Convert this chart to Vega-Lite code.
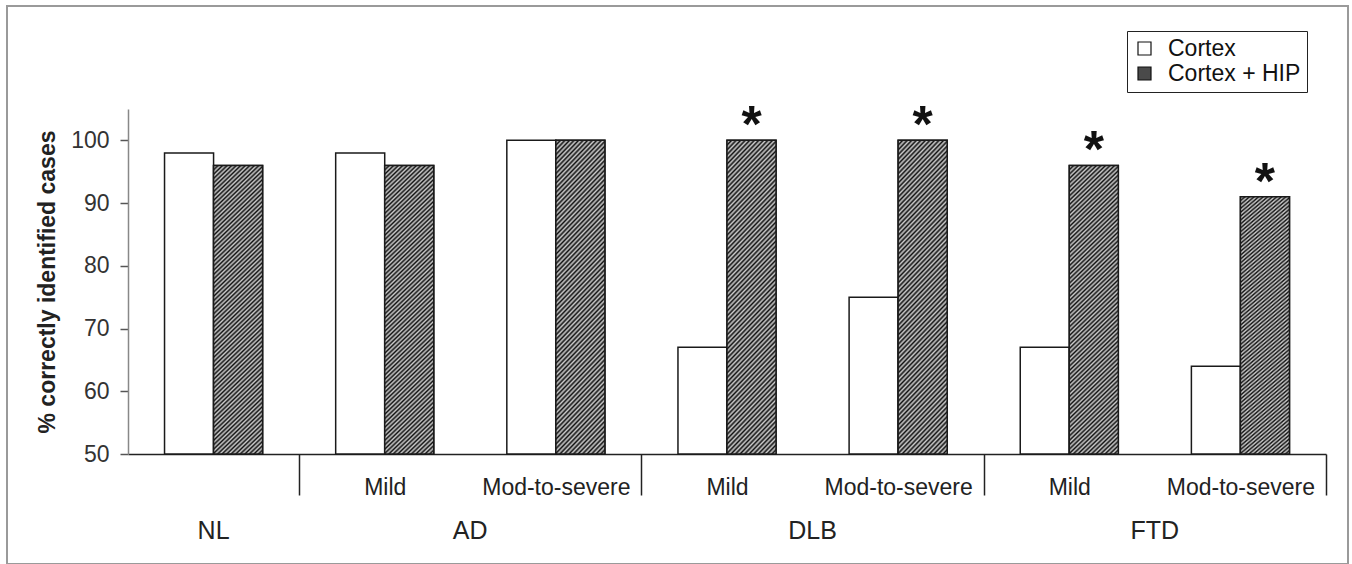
{
"$schema": "https://vega.github.io/schema/vega-lite/v6.json",
"width": 1341, "height": 558,
"autosize": {"type": "none"},
"padding": {"left": 7, "top": 6, "right": 4, "bottom": 0},
"background": "white",
"config": {"font": "Liberation Sans", "view": {"stroke": "#9a9a9a", "strokeWidth": 2}},
"data": {"values": [
{"cat":"NL","series":"Cortex","value":98,"sig":""},
{"cat":"NL","series":"Cortex + HIP","value":96,"sig":""},
{"cat":"AD/Mild","series":"Cortex","value":98,"sig":""},
{"cat":"AD/Mild","series":"Cortex + HIP","value":96,"sig":""},
{"cat":"AD/Mod-to-severe","series":"Cortex","value":100,"sig":""},
{"cat":"AD/Mod-to-severe","series":"Cortex + HIP","value":100,"sig":""},
{"cat":"DLB/Mild","series":"Cortex","value":67,"sig":""},
{"cat":"DLB/Mild","series":"Cortex + HIP","value":100,"sig":"*"},
{"cat":"DLB/Mod-to-severe","series":"Cortex","value":75,"sig":""},
{"cat":"DLB/Mod-to-severe","series":"Cortex + HIP","value":100,"sig":"*"},
{"cat":"FTD/Mild","series":"Cortex","value":67,"sig":""},
{"cat":"FTD/Mild","series":"Cortex + HIP","value":96,"sig":"*"},
{"cat":"FTD/Mod-to-severe","series":"Cortex","value":64,"sig":""},
{"cat":"FTD/Mod-to-severe","series":"Cortex + HIP","value":91,"sig":"*"}
]},
"encoding": {
"y": {"field": "value", "type": "quantitative",
 "scale": {"domain": [50, 105], "range": [448, 103], "nice": false, "zero": false},
 "axis": {"orient": "left", "offset": -121, "values": [50,60,70,80,90,100], "title": "% correctly identified cases",
  "titleFontSize": 23, "titleFontWeight": "bold", "titleColor": "#222", "titlePadding": 11,
  "labelFontSize": 23, "labelColor": "#333", "labelPadding": 11, "tickSize": 8, "tickColor": "#555", "tickWidth": 1.5,
  "domainColor": "#888", "domainWidth": 1.5, "grid": false}}
},
"layer": [
{
"mark": {"type": "bar", "stroke": "#1a1a1a", "strokeWidth": 1.5},
"encoding": {
"x": {"field": "cat", "type": "nominal",
 "scale": {"domain": ["NL","AD/Mild","AD/Mod-to-severe","DLB/Mild","DLB/Mod-to-severe","FTD/Mild","FTD/Mod-to-severe"], "range": [121, 1319], "paddingInner": 0, "paddingOuter": 0},
 "axis": {"orient": "bottom", "offset": -110, "title": null, "labelAngle": 0,
  "labelExpr": "isString(datum.value) && indexof(datum.value,'/') > 0 ? split(datum.value,'/')[1] : ''",
  "labelFontSize": 23, "labelColor": "#222", "labelPadding": -19, "labelOverlap": false,
  "domainColor": "#222", "domainWidth": 1.5, "tickBand": "extent", "tickSize": 41, "tickColor": "#222", "tickWidth": 1.5,
  "tickOpacity": {"condition": {"test": "!datum.extra && (datum.value === 'NL' || datum.value === 'AD/Mod-to-severe' || datum.value === 'DLB/Mod-to-severe' || datum.value === 'FTD/Mod-to-severe')", "value": 1}, "value": 0},
  "grid": false}},
"xOffset": {"field": "series", "type": "nominal", "scale": {"paddingInner": 0, "paddingOuter": 0.745}},
"y2": {"datum": 50},
"color": {"field": "series", "type": "nominal",
 "scale": {"domain": ["Cortex", "Cortex + HIP"], "range": ["#ffffff", "#4a4a4a"]},
 "legend": {"orient": "none", "legendX": 1120, "legendY": 25, "title": null, "symbolType": "square", "symbolSize": 169,
  "symbolStrokeColor": "#111", "symbolStrokeWidth": 1.2, "symbolOpacity": 1, "labelFontSize": 23, "labelColor": "#111", "labelOffset": 12,
  "padding": 6, "rowPadding": 1, "strokeColor": "#222"}}
}
},
{
"transform": [{"filter": "datum.series === 'Cortex + HIP'"}],
"mark": {"type": "bar", "stroke": "#1a1a1a", "strokeWidth": 1.5, "fill": {"gradient": "linear", "x1": 0, "y1": 0, "x2": 0.1925, "y2": 1.1786, "stops": [
{"offset":0,"color":"#111"},{"offset":0.00625,"color":"#ccc"},{"offset":0.0125,"color":"#111"},{"offset":0.01875,"color":"#ccc"},{"offset":0.025,"color":"#111"},{"offset":0.03125,"color":"#ccc"},{"offset":0.0375,"color":"#111"},{"offset":0.04375,"color":"#ccc"},{"offset":0.05,"color":"#111"},{"offset":0.05625,"color":"#ccc"},{"offset":0.0625,"color":"#111"},{"offset":0.06875,"color":"#ccc"},{"offset":0.075,"color":"#111"},{"offset":0.08125,"color":"#ccc"},{"offset":0.0875,"color":"#111"},{"offset":0.09375,"color":"#ccc"},
{"offset":0.1,"color":"#111"},{"offset":0.10625,"color":"#ccc"},{"offset":0.1125,"color":"#111"},{"offset":0.11875,"color":"#ccc"},{"offset":0.125,"color":"#111"},{"offset":0.13125,"color":"#ccc"},{"offset":0.1375,"color":"#111"},{"offset":0.14375,"color":"#ccc"},{"offset":0.15,"color":"#111"},{"offset":0.15625,"color":"#ccc"},{"offset":0.1625,"color":"#111"},{"offset":0.16875,"color":"#ccc"},{"offset":0.175,"color":"#111"},{"offset":0.18125,"color":"#ccc"},{"offset":0.1875,"color":"#111"},{"offset":0.19375,"color":"#ccc"},
{"offset":0.2,"color":"#111"},{"offset":0.20625,"color":"#ccc"},{"offset":0.2125,"color":"#111"},{"offset":0.21875,"color":"#ccc"},{"offset":0.225,"color":"#111"},{"offset":0.23125,"color":"#ccc"},{"offset":0.2375,"color":"#111"},{"offset":0.24375,"color":"#ccc"},{"offset":0.25,"color":"#111"},{"offset":0.25625,"color":"#ccc"},{"offset":0.2625,"color":"#111"},{"offset":0.26875,"color":"#ccc"},{"offset":0.275,"color":"#111"},{"offset":0.28125,"color":"#ccc"},{"offset":0.2875,"color":"#111"},{"offset":0.29375,"color":"#ccc"},
{"offset":0.3,"color":"#111"},{"offset":0.30625,"color":"#ccc"},{"offset":0.3125,"color":"#111"},{"offset":0.31875,"color":"#ccc"},{"offset":0.325,"color":"#111"},{"offset":0.33125,"color":"#ccc"},{"offset":0.3375,"color":"#111"},{"offset":0.34375,"color":"#ccc"},{"offset":0.35,"color":"#111"},{"offset":0.35625,"color":"#ccc"},{"offset":0.3625,"color":"#111"},{"offset":0.36875,"color":"#ccc"},{"offset":0.375,"color":"#111"},{"offset":0.38125,"color":"#ccc"},{"offset":0.3875,"color":"#111"},{"offset":0.39375,"color":"#ccc"},
{"offset":0.4,"color":"#111"},{"offset":0.40625,"color":"#ccc"},{"offset":0.4125,"color":"#111"},{"offset":0.41875,"color":"#ccc"},{"offset":0.425,"color":"#111"},{"offset":0.43125,"color":"#ccc"},{"offset":0.4375,"color":"#111"},{"offset":0.44375,"color":"#ccc"},{"offset":0.45,"color":"#111"},{"offset":0.45625,"color":"#ccc"},{"offset":0.4625,"color":"#111"},{"offset":0.46875,"color":"#ccc"},{"offset":0.475,"color":"#111"},{"offset":0.48125,"color":"#ccc"},{"offset":0.4875,"color":"#111"},{"offset":0.49375,"color":"#ccc"},
{"offset":0.5,"color":"#111"},{"offset":0.50625,"color":"#ccc"},{"offset":0.5125,"color":"#111"},{"offset":0.51875,"color":"#ccc"},{"offset":0.525,"color":"#111"},{"offset":0.53125,"color":"#ccc"},{"offset":0.5375,"color":"#111"},{"offset":0.54375,"color":"#ccc"},{"offset":0.55,"color":"#111"},{"offset":0.55625,"color":"#ccc"},{"offset":0.5625,"color":"#111"},{"offset":0.56875,"color":"#ccc"},{"offset":0.575,"color":"#111"},{"offset":0.58125,"color":"#ccc"},{"offset":0.5875,"color":"#111"},{"offset":0.59375,"color":"#ccc"},
{"offset":0.6,"color":"#111"},{"offset":0.60625,"color":"#ccc"},{"offset":0.6125,"color":"#111"},{"offset":0.61875,"color":"#ccc"},{"offset":0.625,"color":"#111"},{"offset":0.63125,"color":"#ccc"},{"offset":0.6375,"color":"#111"},{"offset":0.64375,"color":"#ccc"},{"offset":0.65,"color":"#111"},{"offset":0.65625,"color":"#ccc"},{"offset":0.6625,"color":"#111"},{"offset":0.66875,"color":"#ccc"},{"offset":0.675,"color":"#111"},{"offset":0.68125,"color":"#ccc"},{"offset":0.6875,"color":"#111"},{"offset":0.69375,"color":"#ccc"},
{"offset":0.7,"color":"#111"},{"offset":0.70625,"color":"#ccc"},{"offset":0.7125,"color":"#111"},{"offset":0.71875,"color":"#ccc"},{"offset":0.725,"color":"#111"},{"offset":0.73125,"color":"#ccc"},{"offset":0.7375,"color":"#111"},{"offset":0.74375,"color":"#ccc"},{"offset":0.75,"color":"#111"},{"offset":0.75625,"color":"#ccc"},{"offset":0.7625,"color":"#111"},{"offset":0.76875,"color":"#ccc"},{"offset":0.775,"color":"#111"},{"offset":0.78125,"color":"#ccc"},{"offset":0.7875,"color":"#111"},{"offset":0.79375,"color":"#ccc"},
{"offset":0.8,"color":"#111"},{"offset":0.80625,"color":"#ccc"},{"offset":0.8125,"color":"#111"},{"offset":0.81875,"color":"#ccc"},{"offset":0.825,"color":"#111"},{"offset":0.83125,"color":"#ccc"},{"offset":0.8375,"color":"#111"},{"offset":0.84375,"color":"#ccc"},{"offset":0.85,"color":"#111"},{"offset":0.85625,"color":"#ccc"},{"offset":0.8625,"color":"#111"},{"offset":0.86875,"color":"#ccc"},{"offset":0.875,"color":"#111"},{"offset":0.88125,"color":"#ccc"},{"offset":0.8875,"color":"#111"},{"offset":0.89375,"color":"#ccc"},
{"offset":0.9,"color":"#111"},{"offset":0.90625,"color":"#ccc"},{"offset":0.9125,"color":"#111"},{"offset":0.91875,"color":"#ccc"},{"offset":0.925,"color":"#111"},{"offset":0.93125,"color":"#ccc"},{"offset":0.9375,"color":"#111"},{"offset":0.94375,"color":"#ccc"},{"offset":0.95,"color":"#111"},{"offset":0.95625,"color":"#ccc"},{"offset":0.9625,"color":"#111"},{"offset":0.96875,"color":"#ccc"},{"offset":0.975,"color":"#111"},{"offset":0.98125,"color":"#ccc"},{"offset":0.9875,"color":"#111"},{"offset":0.99375,"color":"#ccc"},
{"offset":1,"color":"#111"}
]}},
"encoding": {
"x": {"field": "cat", "type": "nominal", "axis": null},
"xOffset": {"field": "series", "type": "nominal"},
"y2": {"datum": 50}
}
},
{
"mark": {"type": "text", "fontSize": 52, "fontWeight": "bold", "baseline": "alphabetic", "dy": 2, "color": "#111"},
"encoding": {
"x": {"field": "cat", "type": "nominal",
 "axis": {"orient": "bottom", "offset": -110, "title": null, "labelAngle": 0, "domain": false, "ticks": true, "tickSize": 0, "tickOpacity": 0,
  "labelExpr": "!isString(datum.value) ? '' : (indexof(datum.value,'/') < 0 ? datum.value : (indexof(datum.value,'/Mild') > 0 ? split(datum.value,'/')[0] : ''))",
  "labelFontSize": 25, "labelColor": "#222", "labelPadding": 64, "labelOverlap": false,
  "labelOffset": {"condition": {"test": "isString(datum.value) && indexof(datum.value,'/Mild') > 0", "value": 85.5}, "value": 0},
  "grid": false}},
"xOffset": {"field": "series", "type": "nominal"},
"text": {"field": "sig"}
}
}
],
"resolve": {"axis": {"x": "independent"}}
}
